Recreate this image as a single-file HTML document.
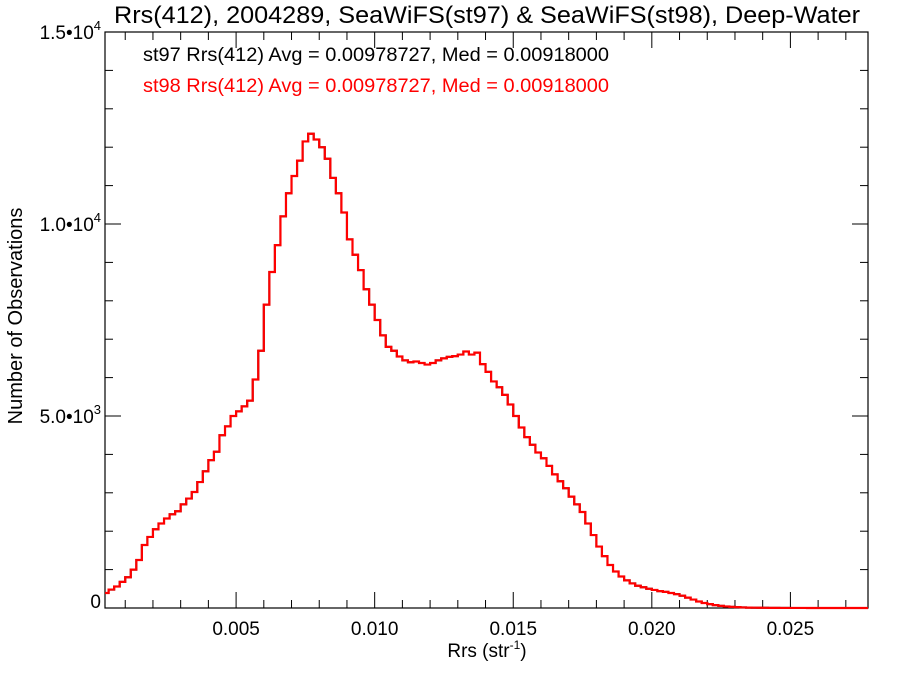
<!DOCTYPE html>
<html><head><meta charset="utf-8"><style>
body{margin:0;background:#fff;}
svg{display:block;font-family:"Liberation Sans",Helvetica,Arial,sans-serif;}
</style></head><body>
<svg id="chart" width="900" height="675" viewBox="0 0 900 675">
<text x="487" y="23" font-size="24" text-anchor="middle" fill="#000" textLength="746" lengthAdjust="spacingAndGlyphs">Rrs(412), 2004289, SeaWiFS(st97) &amp; SeaWiFS(st98), Deep-Water</text>
<text x="143" y="61" font-size="19" fill="#000" textLength="466" lengthAdjust="spacingAndGlyphs">st97 Rrs(412) Avg = 0.00978727, Med = 0.00918000</text>
<text x="143" y="92" font-size="19" fill="#ff0000" textLength="466" lengthAdjust="spacingAndGlyphs">st98 Rrs(412) Avg = 0.00978727, Med = 0.00918000</text>
<g id="axes"></g>
<g id="series"></g>
<text x="487" y="657" font-size="19" text-anchor="middle">Rrs (str<tspan font-size="12" dy="-8">-1</tspan><tspan dy="8">)</tspan></text>
<text transform="translate(22,316) rotate(-90)" font-size="20" text-anchor="middle">Number of Observations</text>
</svg>
<script>
const binStart = 0.0002;
const binWidth = 0.0002;
const counts = [390,480,560,680,800,1000,1250,1640,1850,2050,2200,2330,2440,2520,2700,2850,3020,3280,3560,3850,4070,4500,4730,5000,5120,5250,5400,5950,6700,7900,8750,9450,10200,10800,11250,11650,12150,12350,12200,12000,11700,11200,10800,10300,9600,9200,8800,8300,7900,7500,7100,6800,6700,6550,6450,6400,6420,6380,6340,6380,6450,6500,6540,6560,6600,6680,6600,6650,6350,6150,5900,5750,5550,5300,5000,4700,4450,4250,4050,3900,3700,3480,3300,3120,2900,2700,2500,2200,1900,1600,1350,1120,950,820,720,640,580,540,500,470,440,420,390,360,320,270,220,170,130,100,75,55,40,30,22,15,10,8,6,5,4,3,2,2,1,1,1,0,0,0,0,0,0,0,0,0,0,0,0];
const xTickValues = [0.005,0.010,0.015,0.020,0.025];
const xTickLabels = ["0.005","0.010","0.015","0.020","0.025"];
const yTickValues = [0,5000,10000,15000];
const yTickLabels = ["0","5.0\u202210","1.0\u202210","1.5\u202210"];
const yTickExp = ["","3","4","4"];
const xMin=0.00027, xMax=0.0278, yMin=0, yMax=15000;
const L=105,R=868,T=32,B=608;
const NS="http://www.w3.org/2000/svg";
function sx(v){return L+(v-xMin)/(xMax-xMin)*(R-L);}
function sy(v){return B-(v-yMin)/(yMax-yMin)*(B-T);}
function mk(tag,attrs,parent){const e=document.createElementNS(NS,tag);for(const k in attrs)e.setAttribute(k,attrs[k]);parent.appendChild(e);return e;}
const axes=document.getElementById('axes');
const frame=mk('rect',{x:L,y:T,width:R-L,height:B-T,fill:'none',stroke:'#000','stroke-width':1.2},axes);


for(let m=0.001;m<xMax;m+=0.001){
  if(m<xMin)continue;
  const major=Math.abs(m*200-Math.round(m*200))<1e-6;
  const len=major?16:8;
  const x=sx(m);
  const t1=mk('line',{x1:x,x2:x,y1:B,y2:B-len,stroke:'#000','stroke-width':1},axes);
  
  
  const t2=mk('line',{x1:x,x2:x,y1:T,y2:T+len,stroke:'#000','stroke-width':1},axes);
  
  
}
xTickValues.forEach((v,i)=>{
  const t=mk('text',{x:sx(v),y:B+27,'font-size':19,'text-anchor':'middle'},axes);
  t.textContent=xTickLabels[i];
  
  
});
for(let m=1000;m<yMax;m+=1000){
  const major=m%5000===0;
  const len=major?16:8;
  const y=sy(m);
  const t1=mk('line',{x1:L,x2:L+len,y1:y,y2:y,stroke:'#000','stroke-width':1},axes);
  
  
  const t2=mk('line',{x1:R,x2:R-len,y1:y,y2:y,stroke:'#000','stroke-width':1},axes);
  
  
}
yTickValues.forEach((v,i)=>{
  const t=mk('text',{x:L-4,y:sy(v)+(v===0?0:7),'font-size':19,'text-anchor':'end'},axes);
  t.textContent=yTickLabels[i];
  if(yTickExp[i]){const s=mk('tspan',{'font-size':13,dy:-9},t);s.textContent=yTickExp[i];}
  
  
});
function stepPath(){
  let d='';
  counts.forEach((c,i)=>{
    const x0=Math.max(sx(binStart+i*binWidth),L), x1=Math.min(sx(binStart+(i+1)*binWidth),R);
    const y=sy(c);
    d+=(i===0?'M':'L')+x0.toFixed(2)+','+y.toFixed(2)+'L'+x1.toFixed(2)+','+y.toFixed(2);
  });
  return d;
}
const series=document.getElementById('series');
const p1=mk('path',{d:stepPath(),fill:'none',stroke:'#000','stroke-width':2},series);


const p2=mk('path',{d:stepPath(),fill:'none',stroke:'#ff0000','stroke-width':2.2},series);


</script>
</body></html>
